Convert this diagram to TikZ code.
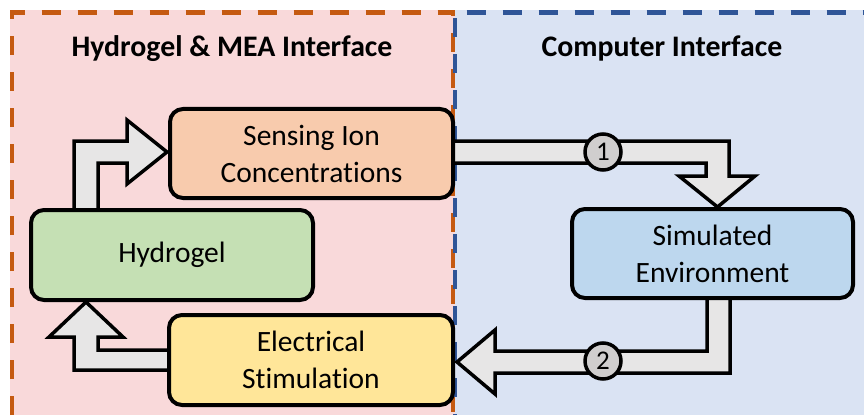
\documentclass[tikz,border=0pt]{standalone}
\usepackage{fontspec}
\setmainfont[Ligatures=NoCommon]{Carlito}
\usetikzlibrary{calc}
\definecolor{pinkbg}{HTML}{F9D9DA}
\definecolor{bluebg}{HTML}{DAE3F3}
\definecolor{orangeline}{HTML}{C55A11}
\definecolor{blueline}{HTML}{2F5597}
\definecolor{sensefill}{HTML}{F8CBAD}
\definecolor{hydrofill}{HTML}{C5E0B4}
\definecolor{elecfill}{HTML}{FFE699}
\definecolor{simfill}{HTML}{BDD7EE}
\definecolor{arrowfill}{HTML}{E7E6E6}
\definecolor{circfill}{HTML}{D0CECE}
\pgfdeclarelayer{panel}
\pgfdeclarelayer{arrows}
\pgfsetlayers{panel,arrows,main}
\tikzset{
  stagebox/.style={draw=black, line width=4pt, rounded corners=13pt, minimum width=282pt, minimum height=89pt, align=center, font=\fontsize{29.5}{37}\selectfont, inner sep=0pt},
  blockarrow/.style={draw=black, fill=arrowfill, line width=3.5pt, line join=miter},
  stepnum/.style={circle, draw=black, fill=circfill, line width=3.5pt, minimum size=36pt, inner sep=0pt, font=\fontsize{27}{27}\selectfont},
  paneltitle/.style={font=\fontsize{29.8}{34}\selectfont\bfseries, anchor=base},
  paneledge/.style={line width=4.5pt, dash pattern=on 19pt off 17pt}
}
\begin{document}
\begin{tikzpicture}[x=1pt,y=-1pt]
\useasboundingbox (0,0) rectangle (864,417);
% panels
\begin{pgfonlayer}{panel}
\fill[pinkbg] (10,10) rectangle (455,415);
\fill[bluebg] (455,10) rectangle (866,415);
\draw[paneledge, draw=orangeline] (12,415) -- (12,12.5) -- (453,12.5) -- (453,415);
\draw[paneledge, draw=blueline, dash phase=18pt] (455,415) -- (455,12.5) -- (868,12.5);
\end{pgfonlayer}
\node[paneltitle] (titleL) at (232,57) {Hydrogel \& MEA Interface};
\node[paneltitle] (titleR) at (662,57) {Computer Interface};
% stage nodes
\node[stagebox, fill=sensefill, minimum width=283pt] (sense) at (311.5,153.5) {Sensing Ion\\Concentrations};
\node[stagebox, fill=hydrofill, minimum height=90pt] (hydro) at (172,255) {Hydrogel};
\node[stagebox, fill=elecfill, minimum width=284pt, minimum height=90pt] (elec) at (311,360) {Electrical\\Stimulation};
\node[stagebox, fill=simfill, minimum width=281pt] (sim) at (712.5,253.5) {Simulated\\Environment};
% block arrows (behind the boxes)
\begin{pgfonlayer}{arrows}
% arrow 1: sense -> sim
\draw[blockarrow]
  ($(sense.east)+(-4,-12.5)$) -- (729,141) -- (729,176) -- (755,176)
  -- ($(sim.north)+(5,0)$) -- (679,176) -- (706,176) -- (706,163)
  -- ($(sense.east)+(-4,9.5)$) -- cycle;
% arrow 2: sim -> elec
\draw[blockarrow]
  ($(sim.south)+(-5.5,-4)$) -- ($(sim.south)+(17.5,-4)$) -- (730,373) -- (495,373) -- (495,394)
  -- ($(elec.east)+(2,2)$) -- (495,330) -- (495,351) -- (707,351) -- cycle;
% arrow 3: hydro -> sense
\draw[blockarrow]
  (74,212) -- (74,141) -- (127,141) -- (127,120) -- ($(sense.west)+(-1,-1.5)$)
  -- (127,184) -- (127,163) -- (98,163) -- (98,212) -- cycle;
% arrow 4: elec -> hydro
\draw[blockarrow]
  ($(elec.west)+(4,-10)$) -- (98,350) -- (98,337) -- (123,337) -- (86,302)
  -- (49,337) -- (74,337) -- (74,370) -- ($(elec.west)+(4,10)$) -- cycle;
\end{pgfonlayer}
% step numbers
\node[stepnum] (n1) at (603,152) {1};
\node[stepnum] (n2) at (603,361) {2};
\end{tikzpicture}
\end{document}
